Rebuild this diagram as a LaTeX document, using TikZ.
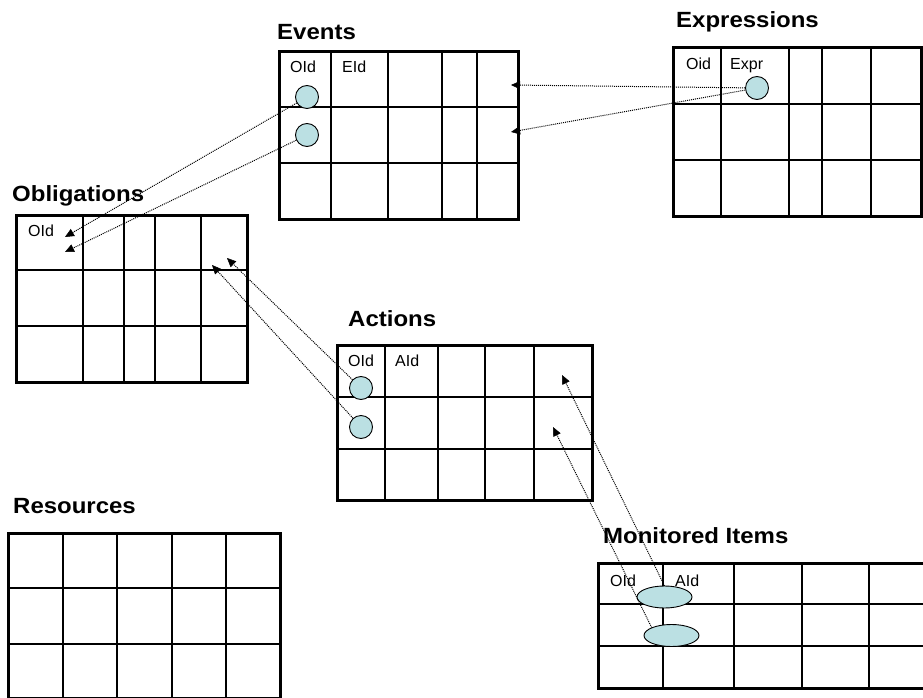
\documentclass[tikz,border=0pt]{standalone}
\usepackage{fontspec}
\setmainfont{Liberation Sans}
\newfontfamily\headfont[FakeStretch=1.09]{Liberation Sans}
\usetikzlibrary{arrows.meta,shapes.geometric}
\definecolor{keyfill}{RGB}{187,224,227}

\tikzset{
  frame/.style={draw=black, line width=3pt, inner sep=0pt, outer sep=0pt, rectangle},
  gridline/.style={draw=black, line width=1.4pt},
  conn/.style={draw=black, line width=1pt, dash pattern=on 1pt off 1pt,
               -{Triangle[length=9pt,width=8pt,line width=0.5pt,fill=black]}},
  keydot/.style={circle, draw=black, line width=0.9pt, fill=keyfill,
                 minimum size=23pt, inner sep=0pt},
  keyoval/.style={ellipse, draw=black, line width=0.9pt, fill=keyfill,
                  minimum width=55pt, minimum height=22pt, inner sep=0pt},
  tabtitle/.style={font=\headfont\bfseries\fontsize{22}{22}\selectfont,
                   anchor=base west, inner sep=0pt},
  cell/.style={font=\fontsize{16}{16}\selectfont, anchor=base west, inner sep=0pt}
}

% #1 name, #2 left, #3 top, #4 right, #5 bottom, #6 inner column x's, #7 inner row y's
\newcommand{\dbtable}[7]{%
  \foreach \cx in {#6} {\draw[gridline] (\cx,#3) -- (\cx,#5);}
  \foreach \ry in {#7} {\draw[gridline] (#2,\ry) -- (#4,\ry);}
  \node[frame, anchor=north west,
        minimum width={(#4-#2)*1pt}, minimum height={(#5-#3)*1pt}] (#1) at (#2,#3) {};
}

\begin{document}
\begin{tikzpicture}[x=1pt, y=-1pt]
  \useasboundingbox (0,0) rectangle (923,698);
  \begin{scope}
  \clip (0,0) rectangle (923,698);

  % tables
  \dbtable{events}{279.5}{52}{518}{219}{331,388,442,477}{107,163}
  \dbtable{exprs}{673}{48}{921.5}{216}{721,789,822,871}{104,160}
  \dbtable{oblig}{16}{215}{247}{382}{83,124,155,201}{270,326}
  \dbtable{actions}{337}{345}{592}{500}{385,438,485,534}{397,449}
  \dbtable{monitor}{598}{563}{935}{688}{663,734,802,869}{604,646}
  \dbtable{resources}{8}{533}{280}{698.5}{63,117,172,226}{588,644}

  % table titles
  \node[tabtitle] (tevents) at (277,40) {Events};
  \node[tabtitle] (texprs) at (676,28) {Expressions};
  \node[tabtitle] (toblig) at (12,201.5) {Obligations};
  \node[tabtitle] (tactions) at (348,326) {Actions};
  \node[tabtitle] (tmonitor) at (603,543) {Monitored Items};
  \node[tabtitle] (tresources) at (13,513) {Resources};

  % column headings
  \node[cell] (evoid) at (290,73) {OId};
  \node[cell] (eveid) at (342,73) {EId};
  \node[cell] (exoid) at (686,70) {Oid};
  \node[cell] (exexpr) at (730,70) {Expr};
  \node[cell] (oboid) at (28,236.5) {OId};
  \node[cell] (acoid) at (348,366.5) {OId};
  \node[cell] (acaid) at (395,366.5) {AId};
  \node[cell] (mooid) at (610,586.5) {OId};
  \node[cell] (moaid) at (675,586.5) {AId};

  % key markers
  \node[keydot] (evk1) at (307,97) {};
  \node[keydot] (evk2) at (307,135) {};
  \node[keydot] (exk) at (757,88) {};
  \node[keydot] (ack1) at (361,388) {};
  \node[keydot] (ack2) at (361,427) {};

  % reference targets
  \coordinate (evin1) at (511,85);
  \coordinate (evin2) at (511,132);
  \coordinate (obin1) at (65,237);
  \coordinate (obin2) at (65,252);
  \coordinate (obin3) at (227,258);
  \coordinate (obin4) at (212,265);
  \coordinate (acin1) at (562,375);
  \coordinate (acin2) at (553,427);

  % references
  \draw[conn] (exk) -- (evin1);
  \draw[conn] (exk) -- (evin2);
  \draw[conn] (evk1) -- (obin1);
  \draw[conn] (evk2) -- (obin2);
  \draw[conn] (ack1) -- (obin3);
  \draw[conn] (ack2) -- (obin4);

  \draw[conn] (664.5,586) -- (acin1);
  \node[keyoval] (mok1) at (664.5,597) {};
  \node[keyoval] (mok2) at (671.5,635.5) {};
  \draw[conn] (mok2.158) -- (acin2);
  \end{scope}
\end{tikzpicture}
\end{document}
